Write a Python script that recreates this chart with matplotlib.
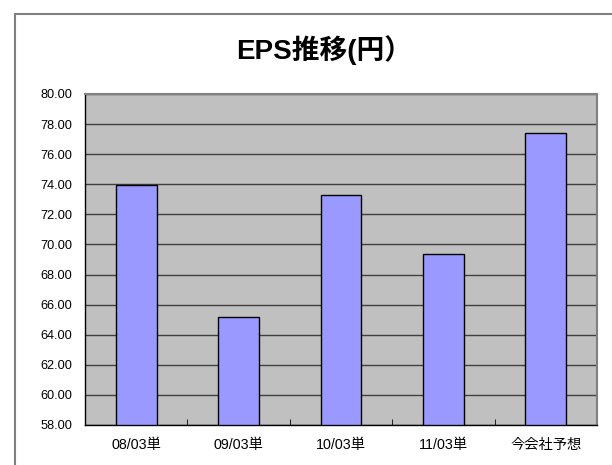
import matplotlib
matplotlib.use("Agg")
import matplotlib.pyplot as plt
from matplotlib.lines import Line2D

plt.rcParams['font.family'] = ['Liberation Sans', 'Noto Sans CJK JP', 'DejaVu Sans']

categories = ["08/03単", "09/03単", "10/03単", "11/03単", "今会社予想"]
eps_values = [73.95, 65.18, 73.29, 69.37, 77.41]
y_ticks = [58, 60, 62, 64, 66, 68, 70, 72, 74, 76, 78, 80]

W, H = 612, 465
fig = plt.figure(figsize=(W / 100, H / 100), dpi=100)

# outer chart frame
fig.add_artist(Line2D([15 / W, 15 / W], [0, 1 - 14.5 / H], color="#808080", lw=1.5))
fig.add_artist(Line2D([15 / W, 1], [1 - 14.5 / H, 1 - 14.5 / H], color="#808080", lw=1.5))

left, right, top, bottom = 85, 597, 94, 425
ax = fig.add_axes([left / W, 1 - bottom / H, (right - left) / W, (bottom - top) / H])
ax.set_facecolor("#C0C0C0")

x = list(range(len(categories)))
ax.bar(x, [v - 58 for v in eps_values], bottom=58, width=0.4,
       color="#9999FF", edgecolor="black", linewidth=1.0, zorder=3)

ax.set_xlim(-0.5, len(categories) - 0.5)
ax.set_ylim(58, 80)
ax.set_yticks(y_ticks)
ax.set_yticklabels([f"{t:.2f}" for t in y_ticks], fontsize=9.2)
ax.yaxis.grid(True, color="#404040", linewidth=1.0, zorder=1)
ax.tick_params(axis="y", length=0, pad=9)

ax.set_xticks(x)
ax.set_xticklabels(categories, fontsize=10.3)
ax.set_xticks([i + 0.5 for i in x[:-1]], minor=True)
ax.tick_params(axis="x", which="major", length=0, pad=9)
ax.tick_params(axis="x", which="minor", length=4, direction="in")

for side in ("left", "bottom"):
    ax.spines[side].set_color("black")
    ax.spines[side].set_linewidth(1.0)
for side in ("right", "top"):
    ax.spines[side].set_color("#808080")
    ax.spines[side].set_linewidth(1.5)

fig.text(324 / W, 1 - 50 / H, "EPS推移(円）", ha="center", va="center",
         fontsize=20, fontweight="bold")

fig.savefig("out.png", dpi=100)
